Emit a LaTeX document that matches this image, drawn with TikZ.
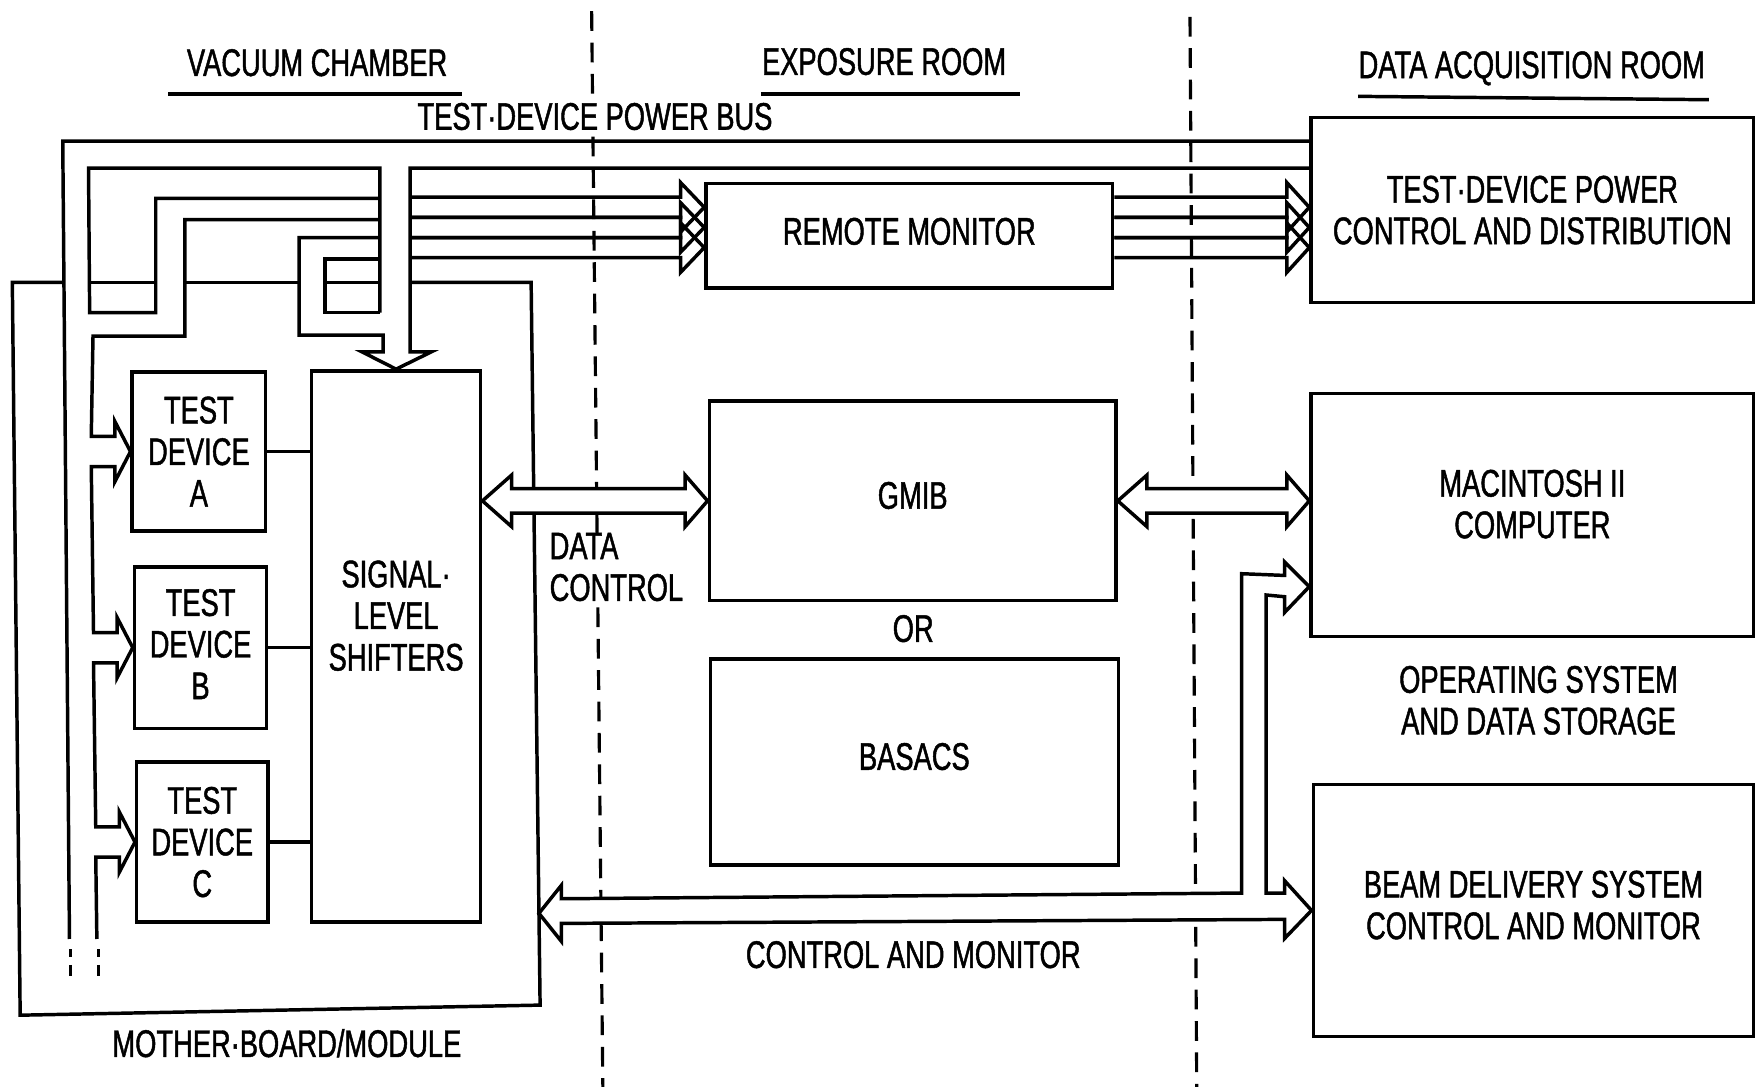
\documentclass[tikz,border=0pt]{standalone}
\usepackage{fontspec}
\newfontfamily\condsans[FakeStretch=0.71, FakeBold=1.2]{Liberation Sans}
\usetikzlibrary{calc,fit}
\tikzset{
  lbl/.style = {align=center, inner sep=0pt,
    font=\condsans\fontsize{12.2}{13.2}\selectfont},
  unit/.style = {rectangle, draw=black, line width=1.1pt, inner sep=0pt},% a block
  intxt/.style = {lbl, label position=center},% text of a block
  wire/.style = {line width=1.1pt, line join=miter},% a bus line
  wirefill/.style = {wire, fill=white},
  roomline/.style = {line width=1pt, dash pattern=on 0.22cm off 0.13cm},% room border
  dbus/.style = {to path={-- ++(26,-23) -- ++(0,12)
    -- ($(\tikztotarget)+(-20,-11)$) -- ++(0,-12) -- (\tikztotarget)
    -- ++(-20,23) -- ++(0,-12) -- ($(\tikztostart)+(26,11)$) -- ++(0,12) -- cycle}}% two-way bus
}

\begin{document}
\begin{tikzpicture}[x=0.0125cm, y=-0.0125cm]
\useasboundingbox (0,0) rectangle (1568,970);
% room borders
\draw[roomline] (528,10) -- (538,970);
\draw[roomline] (1062,15) -- (1068,970);
% room headings
\node[lbl] (hvac) at (283,56) {VACUUM CHAMBER};
\node[lbl] (hexp) at (789,55) {EXPOSURE ROOM};
\node[lbl] (hdaq) at (1367,61) {DATA ACQUISITION ROOM};
\draw[wire] (150,84) -- (412,84);
\draw[wire] (679,84) -- (910,84);
\draw[wire] (1212,86) -- (1525,89);

% blocks
\node[unit, fit={(1170,105) (1565,270)},
  label={[intxt]TEST·DEVICE POWER\\CONTROL AND DISTRIBUTION}] (tdpc) {};
\node[unit, fit={(630,164) (993,257)},
  label={[intxt, yshift=0.05cm]REMOTE MONITOR}] (rmon) {};
\node[unit, fit={(633,358) (996,536)},
  label={[intxt, yshift=0.06cm]GMIB}] (gmib) {};
\node[unit, fit={(634,588) (998,772)},
  label={[intxt, yshift=0.06cm]BASACS}] (basacs) {};
\node[unit, fit={(1170,351) (1565,568)},
  label={[intxt, yshift=0.12cm]MACINTOSH II\\COMPUTER}] (mac) {};
\node[unit, fit={(1172,700) (1565,925)},
  label={[intxt, yshift=0.06cm]BEAM DELIVERY SYSTEM\\CONTROL AND MONITOR}] (beam) {};
\node[unit, fit={(278,331) (429,823)},
  label={[intxt, yshift=0.344cm]SIGNAL·\\LEVEL\\SHIFTERS}] (sls) {};
\node[unit, fit={(118,332) (237,474)}, label={[intxt]TEST\\DEVICE\\A}] (devA) {};
\node[unit, fit={(120,506) (238,650)}, label={[intxt, yshift=0.04cm]TEST\\DEVICE\\B}] (devB) {};
\node[unit, fit={(122,680) (239,823)}, label={[intxt]TEST\\DEVICE\\C}] (devC) {};

% free texts
\node[lbl, fill=white] (pbl) at (531,104) {TEST·DEVICE POWER BUS};
\node[lbl] (orl) at (815,561) {OR};
\node[lbl, fill=white, align=left, anchor=west] (dcl) at (490,506) {DATA\\CONTROL};
\node[lbl] (osl) at (1373,625) {OPERATING SYSTEM\\AND DATA STORAGE};
\node[lbl] (cml) at (815,852) {CONTROL AND MONITOR};
\node[lbl] (mbl) at (256,931) {MOTHER·BOARD/MODULE};

% mother board
\draw[wire] (56,252) -- (11,252) -- (18,906) -- (482,897)
  -- coordinate[pos=0.127] (mbtip) (474,252) -- (366,252);
\draw[wire] (80,252) -- (139,252)  (165,252) -- (266,252)  (290,252) -- (339,252);

% power bus
\coordinate (pbO) at (56,126);
\coordinate (pbI) at (366,150);
\draw[wire] (tdpc.west |- pbO) -- (pbO) -- (62,838);
\draw[wire] (63,847) -- (63,854)  (63,861) -- (63,871);
\draw[wire] (339,279) -- (339,150) -- (79,150) -- (80,279) -- (139,279) -- (139,177) -- (339,177);
\draw[wire] (339,231) -- (290,231) -- (290,279) -- (339,279);
\draw[wire] (tdpc.west |- pbI) -- (pbI) -- (366,314) -- (385,314) -- (sls.north)
  -- (323,314) -- (342,314) -- (342,299) -- (267,299) -- (267,212) -- (339,212);
% supply to the test devices
\draw[wire] (339,196) -- (165,196) -- (165,300) -- (83,300)
  -- ($(devA.west)+(-35,-13.5)$) -- ++(21,0) -- ++(0,-13.5) -- (devA.west)
  -- ++(-14,27) -- ++(0,-13.5) -- ++(-21,0)
  -- ($(devB.west)+(-35,-13.5)$) -- ++(21,0) -- ++(0,-13.5) -- (devB.west)
  -- ++(-14,27) -- ++(0,-13.5) -- ++(-21,0)
  -- ($(devC.west)+(-35,-13.5)$) -- ++(21,0) -- ++(0,-13.5) -- (devC.west)
  -- ++(-14,27) -- ++(0,-13.5) -- ++(-21,0) -- ++(1,73);
\draw[wire] (88,847) -- (88,854)  (88,861) -- (88,871);
\draw[wire] (devA.east) -- (sls.west |- devA.east);
\draw[wire] (devB.east) -- (sls.west |- devB.east);
\draw[wire] (devC.east) -- (sls.west |- devC.east);

% remote monitor lines
\foreach \c in {185,203,221} {
  \coordinate (lv) at (366,\c);
  \draw[wire] ($(lv)+(0,-9)$) -- ($(rmon.west |- lv)+(-21,-9)$) -- ++(0,-13)
    -- (rmon.west |- lv) -- ++(-21,22) -- ++(0,-13) -- ($(lv)+(0,9)$);
  \draw[wire] ($(rmon.east |- lv)+(0,-9)$) -- ($(tdpc.west |- lv)+(-20,-9)$) -- ++(0,-13)
    -- (tdpc.west |- lv) -- ++(-20,22) -- ++(0,-13) -- ($(rmon.east |- lv)+(0,9)$);
}

% data and control buses
\coordinate (slsr) at (sls.east |- gmib.west);
\coordinate (macl) at (mac.west |- gmib.east);
\draw[wirefill] (slsr) to[dbus] (gmib.west);
\draw[wirefill] (gmib.east) to[dbus] (macl);

% control and monitor bus
\coordinate (mactip) at ($(mac.south west)+(0,-46)$);
\draw[wirefill] (mbtip) -- ++(20,-25) -- ++(0,12) -- (1108,797) -- (1108,512)
  -- ($(mactip)+(-22,-10)$) -- ++(0,-12) -- (mactip) -- ++(-22,23) -- ++(0,-14)
  -- (1130,531) -- (1130,797) -- ($(beam.west)+(-24,-15.5)$) -- ++(0,-11) -- (beam.west)
  -- ++(-24,25) -- ++(0,-17) -- ($(mbtip)+(20,9)$) -- ++(0,16) -- cycle;
\end{tikzpicture}
\end{document}
